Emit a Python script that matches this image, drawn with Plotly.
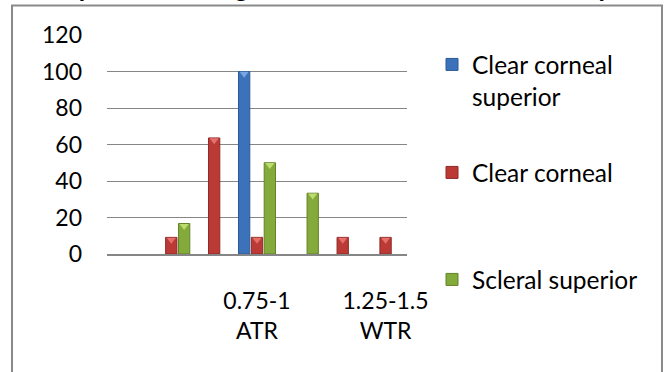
import plotly.graph_objects as go

# ---------------- data ----------------
categories = ["0-0.25", "0.25-0.5 ATR", "0.5-0.75 ATR", "0.75-1 ATR",
              "1-1.25 ATR", "1-1.25 WTR", "1.25-1.5 WTR"]
shown_ticks = ["0.75-1 ATR", "1.25-1.5 WTR"]
shown_tick_text = ["0.75-1<br>ATR", "1.25-1.5<br>WTR"]

series_names = ["Clear corneal<br>superior", "Clear corneal", "Scleral superior"]
clear_corneal_superior = [0, 0, 0, 100, 0, 0, 0]
clear_corneal = [0, 9.1, 63.6, 9.1, 0, 9.1, 9.1]
scleral_superior = [0, 16.7, 0, 50, 33.3, 0, 0]

y_ticks = [0, 20, 40, 60, 80, 100, 120]
title_text = "Comparison among incision sites at three months post"

# ---------------- styles ----------------
FONT = "Lato"
fills = ["#3C72BA", "#BC3A36", "#84AA3C"]
edges = ["#2B5A96", "#8E2A27", "#62832A"]
caps = ["#78A6E0", "#E4706C", "#BCDC70"]
legend_ids = ["legend", "legend2", "legend3"]

series_values = [clear_corneal_superior, clear_corneal, scleral_superior]

fig = go.Figure()
for i, (name, vals) in enumerate(zip(series_names, series_values)):
    drawn = [v if v else None for v in vals]
    fig.add_trace(go.Bar(
        x=categories, y=drawn, name=name,
        offsetgroup=str(i), legend=legend_ids[i],
        marker=dict(color=fills[i], line=dict(color=edges[i], width=1)),
        hoverinfo="skip",
    ))
for i, vals in enumerate(series_values):
    cap_y = [v - 1.3 if v else None for v in vals]
    fig.add_trace(go.Scatter(
        x=categories, y=cap_y, mode="markers", offsetgroup=str(i),
        marker=dict(symbol="triangle-down", size=8, color=caps[i], line=dict(width=0)),
        showlegend=False, hoverinfo="skip", cliponaxis=False,
    ))

W, H = 670, 372
L, R, T, B = 107, 263, 35, 118
pw, ph = W - L - R, H - T - B


def px_x(px):
    return (px - L) / pw


def px_y(py):
    return (H - B - py) / ph


legend_common = dict(
    font=dict(family=FONT, size=24.5, color="#000000"),
    bgcolor="rgba(0,0,0,0)", borderwidth=0, xanchor="left", yanchor="top",
    valign="top", itemclick=False, itemdoubleclick=False,
)

fig.update_layout(
    width=W, height=H,
    margin=dict(l=L, r=R, t=T, b=B, pad=0),
    paper_bgcolor="white", plot_bgcolor="white",
    barmode="group", bargap=0.1, bargroupgap=0.12,
    scattermode="group", scattergap=0.1,
    font=dict(family=FONT, size=23, color="#000000"),
    showlegend=True,
    legend=dict(x=px_x(432), y=px_y(42), **legend_common),
    legend2=dict(x=px_x(432), y=px_y(150), **legend_common),
    legend3=dict(x=px_x(432), y=px_y(257), **legend_common),
    xaxis=dict(
        type="category", categoryorder="array", categoryarray=categories,
        tickmode="array", tickvals=shown_ticks, ticktext=shown_tick_text,
        showgrid=False, zeroline=False, showline=True,
        linecolor="#868686", linewidth=1.5, ticks="",
        ticklabelstandoff=26, tickfont=dict(family=FONT, size=23),
        range=[-0.5, 6.5],
    ),
    yaxis=dict(
        range=[0, 120], tickmode="array", tickvals=y_ticks,
        showgrid=True, gridcolor="#868686", gridwidth=1.3,
        zeroline=False, showline=False, ticks="",
        ticklabelstandoff=24, tickfont=dict(family=FONT, size=23),
    ),
    shapes=[dict(
        type="rect", xref="paper", yref="paper",
        x0=px_x(12), x1=px_x(662), y0=px_y(420), y1=px_y(5.5),
        line=dict(color="#8A8A8A", width=2), fillcolor="rgba(0,0,0,0)",
        layer="below",
    )],
    annotations=[dict(
        text="<b>" + title_text + "</b>", xref="paper", yref="paper",
        x=px_x(337), y=px_y(5), xanchor="center", yanchor="bottom",
        showarrow=False, font=dict(family=FONT, size=26, color="#000000"),
    )],
)

fig.write_html("out.html")
